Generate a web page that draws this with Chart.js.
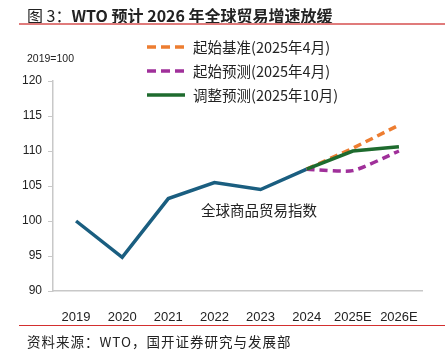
<!DOCTYPE html>
<html>
<head>
<meta charset="utf-8">
<script src="https://cdn.jsdelivr.net/npm/chart.js@4"></script>
<style>
  html, body { margin: 0; padding: 0; background: #fff; }
  #wrap { position: relative; width: 445px; height: 354px; overflow: hidden; font-family: "Noto Sans CJK SC", "Noto Sans", sans-serif; color: #222; }
  #chart { position: absolute; left: 0; top: 0; }
  .abs { position: absolute; white-space: nowrap; }
  #title { left: 27px; top: 3px; font-size: 16px; }
  #title b { font-weight: 700; }
  #topRule { left: 19px; top: 23px; width: 426px; height: 2px; background: #e07b7b; }
  #botRule { left: 19px; top: 325px; width: 426px; height: 1px; background: #d32f2f; }
  #source { left: 27px; top: 331px; font-size: 13.5px; letter-spacing: 1px; color: #222; }
  #unit { left: 27px; top: 52px; font-size: 10.5px; font-family: "Liberation Sans", sans-serif; color: #222; }
  #note { left: 201px; top: 199px; font-size: 14.5px; color: #222; }
  .leg { left: 146px; font-size: 14.5px; color: #222; display: flex; align-items: center; }
  .leg svg { margin-right: 7px; }
</style>
</head>
<body>
<div id="wrap">
  <canvas id="chart" width="445" height="354"></canvas>
  <div class="abs" id="title">图 3：<b>WTO 预计 2026 年全球贸易增速放缓</b></div>
  <div class="abs" id="topRule"></div>
  <div class="abs" id="unit">2019=100</div>
  <div class="abs" id="legend"></div>
  <div class="abs" id="note">全球商品贸易指数</div>
  <div class="abs" id="botRule"></div>
  <div class="abs" id="source">资料来源：WTO，国开证券研究与发展部</div>
</div>
<script>
const categories = ["2019", "2020", "2021", "2022", "2023", "2024", "2025E", "2026E"];
const tradeIndex = [100, 94.8, 103.2, 105.5, 104.5, 107.4, null, null];
const baselineApr = [null, null, null, null, null, 107.4, 110.4, 113.7];
const forecastApr = [null, null, null, null, null, 107.4, 107.2, 110.0];
const forecastOct = [null, null, null, null, null, 107.4, 110.0, 110.6];
const yTicks = [90, 95, 100, 105, 110, 115, 120];

const legendItems = [
  { label: "起始基准(2025年4月)", color: "#ed7d31", dash: "9 5" },
  { label: "起始预测(2025年4月)", color: "#a0309a", dash: "9 5" },
  { label: "调整预测(2025年10月)", color: "#1e6b2e", dash: "" },
];

const legend = document.getElementById("legend");
legendItems.forEach((item, i) => {
  const row = document.createElement("div");
  row.className = "abs leg";
  row.style.top = (36 + i * 24) + "px";
  row.innerHTML =
    `<svg width="40" height="8"><line x1="1" y1="4" x2="39" y2="4" stroke="${item.color}" stroke-width="3.5"` +
    (item.dash ? ` stroke-dasharray="${item.dash}"` : "") + ` /></svg><span>${item.label}</span>`;
  legend.appendChild(row);
});

const lineStyle = (data, color, dash, order, tension) => ({
  data,
  borderColor: color,
  backgroundColor: color,
  borderWidth: 3.5,
  borderDash: dash,
  pointRadius: 0,
  tension: tension || 0,
  spanGaps: false,
  order,
});

new Chart(document.getElementById("chart"), {
  type: "line",
  data: {
    labels: categories,
    datasets: [
      lineStyle(tradeIndex, "#1a5e80", [], 3),
      lineStyle(forecastApr, "#a0309a", [8, 5], 2, 0.2),
      lineStyle(baselineApr, "#ed7d31", [8, 5], 1),
      lineStyle(forecastOct, "#1e6b2e", [], 0),
    ],
  },
  options: {
    responsive: false,
    animation: false,
    layout: { padding: { top: 81, right: 23, left: 0, bottom: 0 } },
    plugins: { legend: { display: false }, tooltip: { enabled: false } },
    scales: {
      x: {
        offset: true,
        grid: { display: false },
        border: { display: true, color: "#c8c8c8", width: 1.5 },
        ticks: { color: "#222", font: { family: "Liberation Sans", size: 13 }, padding: 11, maxRotation: 0 },
        afterFit: (s) => { s.height = 63; },
      },
      y: {
        min: 90,
        max: 120,
        afterBuildTicks: (s) => { s.ticks = yTicks.map((v) => ({ value: v })); },
        grid: { drawOnChartArea: false, drawTicks: true, tickLength: 5, color: "#c8c8c8" },
        border: { display: true, color: "#c8c8c8", width: 1.5 },
        ticks: { color: "#222", font: { family: "Liberation Sans", size: 12 }, padding: 6 },
        afterFit: (s) => { s.width = 53; },
      },
    },
  },
});
</script>
</body>
</html>
